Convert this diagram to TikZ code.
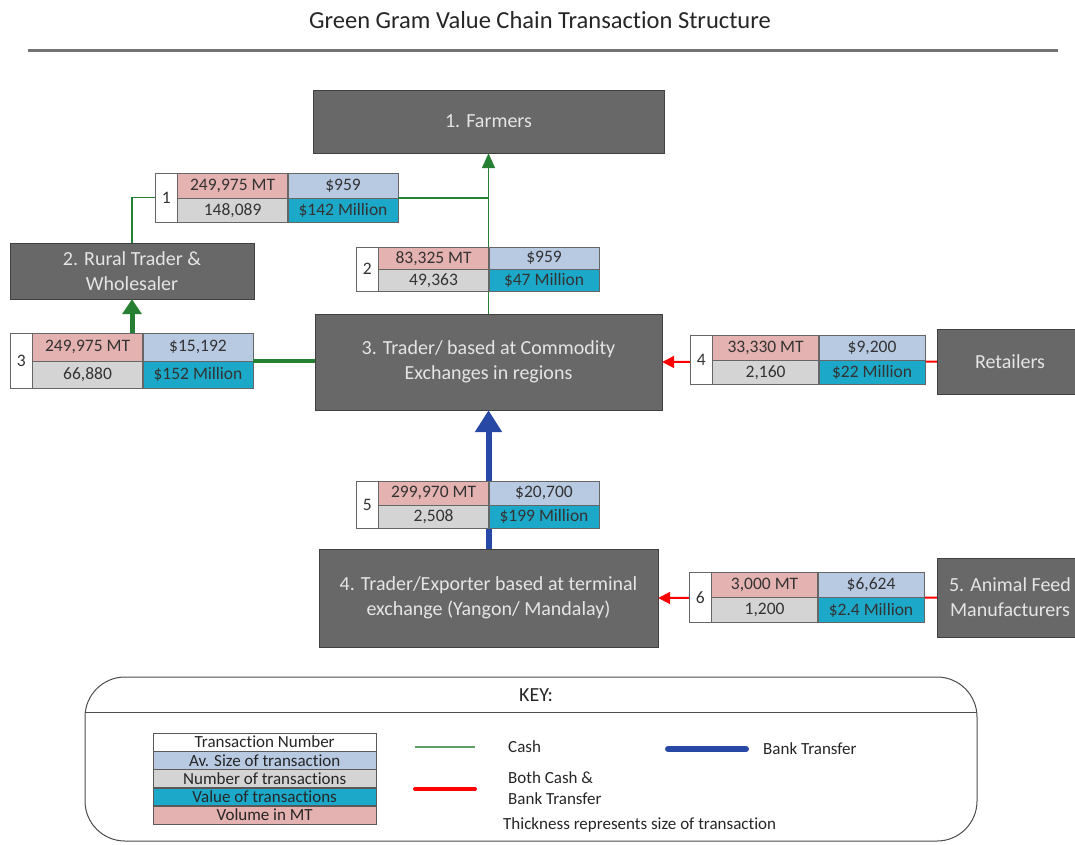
\documentclass[tikz,border=0pt]{standalone}
\usepackage{fontspec}
\setmainfont{Carlito}[Ligatures={NoCommon,NoRare}]
\usetikzlibrary{arrows.meta}

\definecolor{boxgray}{RGB}{104,104,104}
\definecolor{cellred}{RGB}{228,178,176}
\definecolor{cellblue}{RGB}{184,202,226}
\definecolor{cellgray}{RGB}{212,212,212}
\definecolor{cellcyan}{RGB}{28,168,200}
\definecolor{cashgreen}{RGB}{38,128,52}
\definecolor{bankblue}{RGB}{40,72,165}

\tikzset{
  actor/.style={draw=black!75, fill=boxgray, text=black!10, align=center,
    inner sep=0pt, font=\fontsize{20}{25}\selectfont},
  cell/.style={draw=black!60, inner sep=0pt, anchor=north west, text=black!80,
    font=\fontsize{17.5}{18}\selectfont},
  keycell/.style={draw=black!65, inner sep=0pt, anchor=north west, text=black!85,
    minimum width=223pt, minimum height=17.8pt, font=\fontsize{17}{17}\selectfont},
  keytext/.style={anchor=west, align=left, text=black!85, inner sep=0pt,
    font=\fontsize{17}{21}\selectfont},
  cash/.style={draw=cashgreen, line width=1.5pt},
  both/.style={draw=red, line width=2pt},
  bank/.style={draw=bankblue, line width=6pt}
}

% #1 number, #2 x, #3 y, #4 row height, #5 cell width, #6-#9 cell texts
\newcommand{\txtable}[9]{%
  \node[cell, fill=white, minimum width=22pt, minimum height=2*#4] (t#1n) at (#2,#3) {#1};
  \node[cell, fill=cellred, minimum width=#5, minimum height=#4] (t#1a) at (t#1n.north east) {#6};
  \node[cell, fill=cellblue, minimum width=#5, minimum height=#4] (t#1b) at (t#1a.north east) {#7};
  \node[cell, fill=cellgray, minimum width=#5, minimum height=#4] (t#1c) at (t#1a.south west) {#8};
  \node[cell, fill=cellcyan, minimum width=#5, minimum height=#4] (t#1d) at (t#1c.north east) {#9};
}

\begin{document}
\begin{tikzpicture}[x=1pt, y=-1pt]
  \useasboundingbox (0,0) rectangle (1075,844);
  \clip (0,0) rectangle (1075,844);

  \node[font=\fontsize{24.5}{28}\selectfont, text=black!85] (title) at (540,20) {Green Gram Value Chain Transaction Structure};
  \draw[line width=3pt, black!55] (28,50) -- (1058,50);

  \node[actor, minimum width=351pt, minimum height=63pt] (farm) at (488.5,121.5) {1. Farmers};
  \node[actor, minimum width=244pt, minimum height=56pt] (rural) at (132,271) {2. Rural Trader \&\\Wholesaler};
  \node[actor, minimum width=347pt, minimum height=96pt] (trad) at (488.5,362) {3. Trader/ based at Commodity\\Exchanges in regions};
  \node[actor, minimum width=146pt, minimum height=65pt] (ret) at (1010,361.5) {Retailers};
  \node[actor, minimum width=339pt, minimum height=98pt] (exp) at (488.5,598) {4. Trader/Exporter based at terminal\\exchange (Yangon/ Mandalay)};
  \node[actor, minimum width=146pt, minimum height=79pt] (feed) at (1010,597.5) {5. Animal Feed\\Manufacturers};

  \draw[cash, -{Triangle[width=13pt,length=15pt]}] (trad.north) -- (farm.south);
  \draw[both, -{Triangle[width=12pt,length=12pt]}] (ret.west) -- (trad.east);
  \draw[both, -{Triangle[width=12pt,length=12pt]}] (feed.west) -- (exp.east);
  \draw[bank, -{Triangle[width=26pt,length=22pt]}] (exp.north) -- (trad.south);

  \txtable{1}{155}{173}{24.5pt}{110pt}{249,975 MT}{\$959}{148,089}{\$142 Million}
  \txtable{2}{356}{247}{22pt}{110pt}{83,325 MT}{\$959}{49,363}{\$47 Million}
  \txtable{3}{10}{333}{27.5pt}{110pt}{249,975 MT}{\$15,192}{66,880}{\$152 Million}
  \txtable{4}{690}{335}{24.5pt}{106pt}{33,330 MT}{\$9,200}{2,160}{\$22 Million}
  \txtable{5}{356}{481}{23.5pt}{110pt}{299,970 MT}{\$20,700}{2,508}{\$199 Million}
  \txtable{6}{689}{572}{25pt}{106pt}{3,000 MT}{\$6,624}{1,200}{\$2.4 Million}

  \draw[cash] (rural.north) |- (t1n.west);
  \draw[cash] (t1d.north east) -- (t1d.north east -| farm.south);
  \draw[cash, line width=5pt, -{Triangle[width=19pt,length=15pt]}] (t3a.north -| rural.south) -- (rural.south);
  \draw[cash, line width=4pt] (t3d.north east) -- (t3d.north east -| trad.west);

  % key
  \draw[black!70, line width=1pt, rounded corners=40pt] (85,677) rectangle (977,841);
  \draw[black!70, line width=1pt] (85,712) -- (977,712);
  \node[font=\fontsize{20}{22}\selectfont, text=black!85] (key) at (536,695) {KEY:};

  \node[keycell, fill=white] (k1) at (153,733) {Transaction Number};
  \node[keycell, fill=cellblue] (k2) at (k1.south west) {Av. Size of transaction};
  \node[keycell, fill=cellgray] (k3) at (k2.south west) {Number of transactions};
  \node[keycell, fill=cellcyan] (k4) at (k3.south west) {Value of transactions};
  \node[keycell, fill=cellred] (k5) at (k4.south west) {Volume in MT};

  \coordinate (g1) at (415,747);
  \coordinate (g2) at (475,747);
  \draw[draw=cashgreen!75, line width=1.5pt] (g1) -- (g2);
  \node[keytext] (lcash) at (508,747) {Cash};

  \coordinate (r1) at (415,789);
  \coordinate (r2) at (475,789);
  \draw[both, line width=4pt, line cap=round] (r1) -- (r2);
  \node[keytext] (lboth) at (508,788.5) {Both Cash \&\\Bank Transfer};

  \coordinate (b1) at (668,749);
  \coordinate (b2) at (746,749);
  \draw[bank, line cap=round] (b1) -- (b2);
  \node[keytext] (lbank) at (763,749) {Bank Transfer};

  \node[keytext] (lthick) at (503,825) {Thickness represents size of transaction};
\end{tikzpicture}
\end{document}
